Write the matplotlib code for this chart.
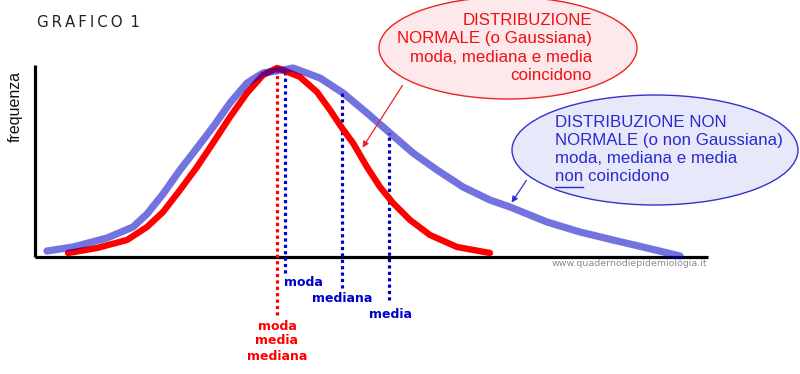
import matplotlib
matplotlib.use("Agg")
import matplotlib.pyplot as plt
from matplotlib.patches import Ellipse

# ---- data (horizontal position, frequency height above baseline) ----
normal_x = [33, 62, 92, 112, 128, 145, 162, 178, 195, 212, 228, 242, 248, 265, 282, 295, 307, 318, 332, 345, 358, 375, 395, 422, 455]
normal_y = [4, 9, 17, 30, 45, 67, 90, 114, 140, 164, 182, 189, 187, 180, 165, 147, 129, 114, 90, 70, 54, 37, 22, 10, 4]

skew_x = [12, 38, 72, 98, 112, 128, 145, 162, 178, 195, 212, 228, 248, 258, 285, 308, 332, 355, 378, 402, 428, 455, 475, 512, 545, 578, 612, 645]
skew_y = [6, 10, 19, 30, 43, 63, 87, 109, 130, 154, 174, 184, 187, 189, 179, 164, 144, 124, 104, 87, 70, 57, 50, 35, 25, 17, 9, 1]

normal_stat_x = [242]           # moda = media = mediana
skew_stat_x = [250, 307, 354]   # moda, mediana, media
skew_stat_top = [188, 164, 124]
skew_labels = ["moda", "mediana", "media"]
normal_labels = ["moda", "media", "mediana"]

RED = "#ff0000"
BLUE_LINE = (0.0, 0.0, 0.78, 0.55)
DOT_BLUE = "#0000cc"
TXT_BLUE = "#2a2ad0"

fig = plt.figure(figsize=(8.0, 3.74), dpi=100)
ax = fig.add_axes([0, 0, 1, 1])
ax.set_xlim(-35, 765)
ax.set_ylim(-117, 257)
ax.axis("off")

# axes lines
ax.plot([0, 0], [0, 192], color="black", lw=2.3, solid_capstyle="butt")
ax.plot([0, 673], [0, 0], color="black", lw=2.3, solid_capstyle="butt")

# dotted lines
for x in normal_stat_x:
    ax.plot([x, x], [-58, 188], color=RED, lw=2.3, ls=(0, (1, 1)), zorder=2)
bottoms = [-16, -31, -43]
for x, t, b in zip(skew_stat_x, skew_stat_top, bottoms):
    ax.plot([x, x], [b, t], color=DOT_BLUE, lw=2.3, ls=(0, (1, 1)), zorder=2)

# curves
ax.plot(normal_x, normal_y, color=RED, lw=4.6, solid_joinstyle="round", solid_capstyle="round", zorder=3)
ax.plot(skew_x, skew_y, color=BLUE_LINE, lw=5.2, solid_joinstyle="round", solid_capstyle="round", zorder=4)

# labels under dotted lines
lab_pos = [(268, -26), (307, -42), (356, -57)]
for (x, y), s in zip(lab_pos, skew_labels):
    ax.text(x, y, s, color=DOT_BLUE, fontsize=9, fontweight="bold", ha="center", va="center")
for i, s in enumerate(normal_labels):
    ax.text(242, -69 - 15 * i, s, color=RED, fontsize=9, fontweight="bold", ha="center", va="center")

# title and y label
ax.text(2, 235, "G\u2009R\u2009A\u2009F\u2009I\u2009C\u2009O\u2009 1", fontsize=10.8, color="#222222",
        ha="left", va="center", family="DejaVu Sans")
ax.text(-20, 151, "frequenza", rotation=90, fontsize=11.5, ha="center", va="center",
        family="Liberation Sans", color="#111111")

# watermark
ax.text(672, -7, "www.quadernodiepidemiologia.it", fontsize=6.8, color="#8a8a8a",
        ha="right", va="center", family="DejaVu Sans")

# red callout
ax.add_patch(Ellipse((473, 209), 258, 102, facecolor="#fde8ec", edgecolor="#ee2222", lw=1, zorder=5))
red_lines = ["DISTRIBUZIONE", "NORMALE (o Gaussiana)", "moda, mediana e media", "coincidono"]
for i, s in enumerate(red_lines):
    ax.text(557, 237 - 18.5 * i, s, color="#ee1111", fontsize=12.2, ha="right", va="center",
            family="Liberation Sans", zorder=6)
ax.annotate("", xy=(326, 107), xytext=(369, 174),
            arrowprops=dict(arrowstyle="-|>", color="#ee2222", lw=0.9, mutation_scale=9), zorder=6)

# blue callout
ax.add_patch(Ellipse((620, 107), 286, 110, facecolor="#e8e8fb", edgecolor="#3333cc", lw=1, zorder=5))
blue_lines = ["DISTRIBUZIONE NON", "NORMALE (o non Gaussiana)", "moda, mediana e media", "non coincidono"]
for i, s in enumerate(blue_lines):
    ax.text(520, 135 - 18.3 * i, s, color=TXT_BLUE, fontsize=12.2, ha="left", va="center",
            family="Liberation Sans", zorder=6)
ax.plot([520, 548], [70, 70], color=TXT_BLUE, lw=1, zorder=6)
ax.annotate("", xy=(475, 52), xytext=(493, 79),
            arrowprops=dict(arrowstyle="-|>", color="#3333cc", lw=0.9, mutation_scale=9), zorder=6)

fig.savefig("out.png", dpi=100)
